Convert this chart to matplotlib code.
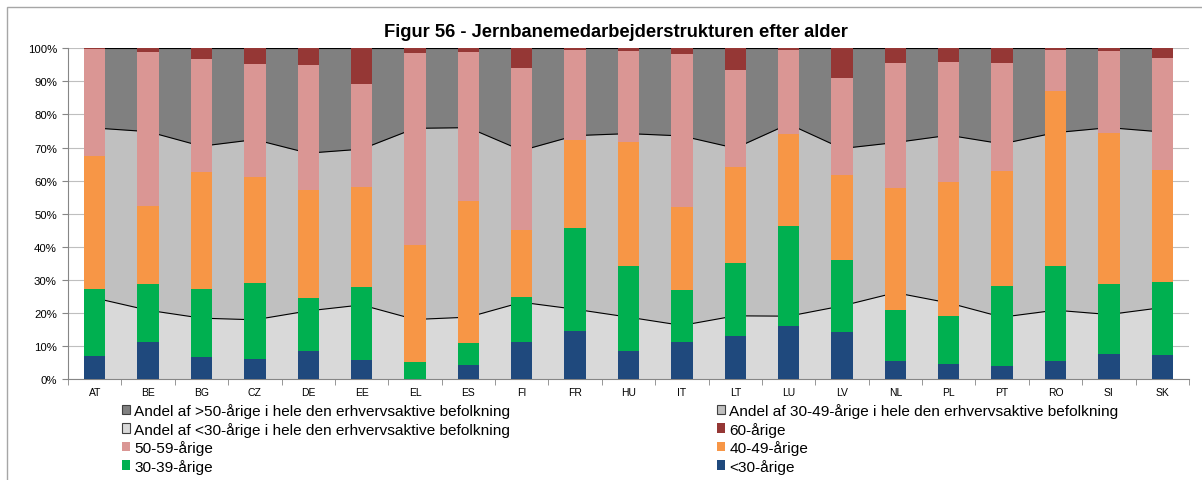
import matplotlib
matplotlib.use('Agg')
import matplotlib.pyplot as plt
import numpy as np
from matplotlib.patches import Patch, Rectangle

plt.rcParams['font.family'] = ['Liberation Sans', 'DejaVu Sans']

lande = ['AT', 'BE', 'BG', 'CZ', 'DE', 'EE', 'EL', 'ES', 'FI', 'FR', 'HU',
         'IT', 'LT', 'LU', 'LV', 'NL', 'PL', 'PT', 'RO', 'SI', 'SK']

# jernbanemedarbejdere, andel i % (aflaest fra figuren)
u30 = [7.1, 11.1, 6.8, 5.9, 8.6, 5.7, 0.0, 4.3, 11.1, 14.6, 8.6,
       11.1, 13.1, 16.1, 14.1, 5.5, 4.5, 4.0, 5.5, 7.7, 7.3]
a30_39 = [20.1, 17.6, 20.4, 23.0, 15.8, 22.2, 5.0, 6.6, 13.8, 31.0, 25.7,
          15.8, 21.9, 30.3, 21.9, 15.4, 14.7, 24.0, 28.7, 21.0, 22.0]
a40_49 = [40.3, 23.7, 35.3, 32.3, 32.8, 30.3, 35.6, 43.0, 20.2, 26.8, 37.3,
          25.2, 29.2, 27.7, 25.8, 36.9, 40.5, 35.0, 53.0, 45.8, 33.9]
a50_59 = [32.3, 46.4, 34.3, 34.1, 37.6, 30.9, 58.0, 44.9, 48.9, 27.1, 27.7,
          46.1, 29.2, 25.5, 29.3, 37.9, 36.3, 32.7, 12.2, 24.6, 33.8]
a60 = [0.2, 1.2, 3.2, 4.7, 5.2, 10.9, 1.4, 1.2, 6.0, 0.5, 0.7,
       1.8, 6.6, 0.4, 8.9, 4.3, 4.0, 4.3, 0.6, 0.9, 3.0]

# hele den erhvervsaktive befolkning, andel i %
bef_u30 = [24.5, 20.8, 18.4, 17.9, 20.6, 22.4, 18.0, 18.7, 23.2, 21.1, 18.7,
           16.2, 19.1, 19.0, 22.1, 26.1, 23.0, 18.7, 20.8, 19.5, 21.6]
bef_30_49 = [51.4, 54.0, 52.0, 54.5, 47.7, 47.1, 57.8, 57.3, 45.9, 52.5, 55.5,
             57.3, 50.7, 58.1, 47.6, 45.4, 50.7, 52.4, 53.7, 56.5, 53.1]
bef_o50 = [24.1, 25.2, 29.6, 27.6, 31.7, 30.5, 24.2, 24.0, 30.9, 26.4, 25.8,
           26.5, 30.2, 22.9, 30.3, 28.5, 26.3, 28.9, 25.5, 24.0, 25.3]

x = np.arange(len(lande))
b1 = np.array(bef_u30)
b2 = b1 + np.array(bef_30_49)
b3 = b2 + np.array(bef_o50)

fig = plt.figure(figsize=(12.02, 4.81), dpi=100)
# ramme om diagrammet
fig.patches.append(Rectangle((7/1202, -0.1), 1.2, 1 - 8/481 + 0.1, transform=fig.transFigure,
                             fill=False, edgecolor='#a6a6a6', lw=1.0))
ax = fig.add_axes([68/1202, 1 - 380/481, 1121/1202, (380 - 49.3)/481])

ax.fill_between(x, 0, b1, color='#d9d9d9', lw=0, zorder=1)
ax.fill_between(x, b1, b2, color='#c0c0c0', lw=0, zorder=1)
ax.fill_between(x, b2, b3, color='#808080', lw=0, zorder=1)
ax.plot(x, b1, color='black', lw=0.8, zorder=2)
ax.plot(x, b2, color='black', lw=0.8, zorder=2)
ax.plot(x, b3, color='black', lw=0.8, zorder=2)

w = 0.4
bund = np.zeros(len(lande))
for vals, col in [(u30, '#1f497d'), (a30_39, '#00b050'), (a40_49, '#f79646'),
                  (a50_59, '#da9694'), (a60, '#953735')]:
    ax.bar(x, vals, w, bottom=bund, color=col, zorder=3)
    bund = bund + np.array(vals)

ax.set_xlim(-0.5, len(lande) - 0.5)
ax.set_ylim(0, 100)
ax.set_yticks(np.arange(0, 101, 10))
ax.set_yticklabels(['%d%%' % v for v in range(0, 101, 10)], fontsize=8.2)
ax.set_xticks(x)
ax.set_xticklabels(lande, fontsize=7.5)
ax.set_xticks(np.arange(-0.5, len(lande), 1), minor=True)
ax.tick_params(axis='x', which='major', length=0, pad=6)
ax.tick_params(axis='x', which='minor', length=4, color='#868686', direction='out')
ax.tick_params(axis='y', length=4, color='#868686', pad=4)
ax.yaxis.grid(True, color='#bfbfbf', lw=0.8, zorder=0)
ax.set_axisbelow(True)
for s in ['top', 'right']:
    ax.spines[s].set_visible(False)
for s in ['left', 'bottom']:
    ax.spines[s].set_color('#868686')

fig.text(616/1202, 1 - 33/481, 'Figur 56 - Jernbanemedarbejderstrukturen efter alder',
         ha='center', va='center', fontsize=13.2, fontweight='bold')

h1 = [Patch(facecolor='#808080', edgecolor='#404040', lw=0.8),
      Patch(facecolor='#d9d9d9', edgecolor='#404040', lw=0.8),
      Patch(facecolor='#da9694'), Patch(facecolor='#00b050')]
l1 = ['Andel af >50-årige i hele den erhvervsaktive befolkning',
      'Andel af <30-årige i hele den erhvervsaktive befolkning',
      '50-59-årige', '30-39-årige']
h2 = [Patch(facecolor='#c0c0c0', edgecolor='#404040', lw=0.8),
      Patch(facecolor='#953735'), Patch(facecolor='#f79646'), Patch(facecolor='#1f497d')]
l2 = ['Andel af 30-49-årige i hele den erhvervsaktive befolkning',
      '60-årige', '40-49-årige', '<30-årige']
kw = dict(frameon=False, fontsize=11.1, handlelength=0.55, handleheight=0.55,
          handletextpad=0.25, labelspacing=0.23, borderpad=0, borderaxespad=0)
fig.legend(h1, l1, loc='upper left', bbox_to_anchor=(122/1202, 1 - 404/481), **kw)
fig.legend(h2, l2, loc='upper left', bbox_to_anchor=(717/1202, 1 - 404/481), **kw)

fig.savefig('out.png', dpi=100)
